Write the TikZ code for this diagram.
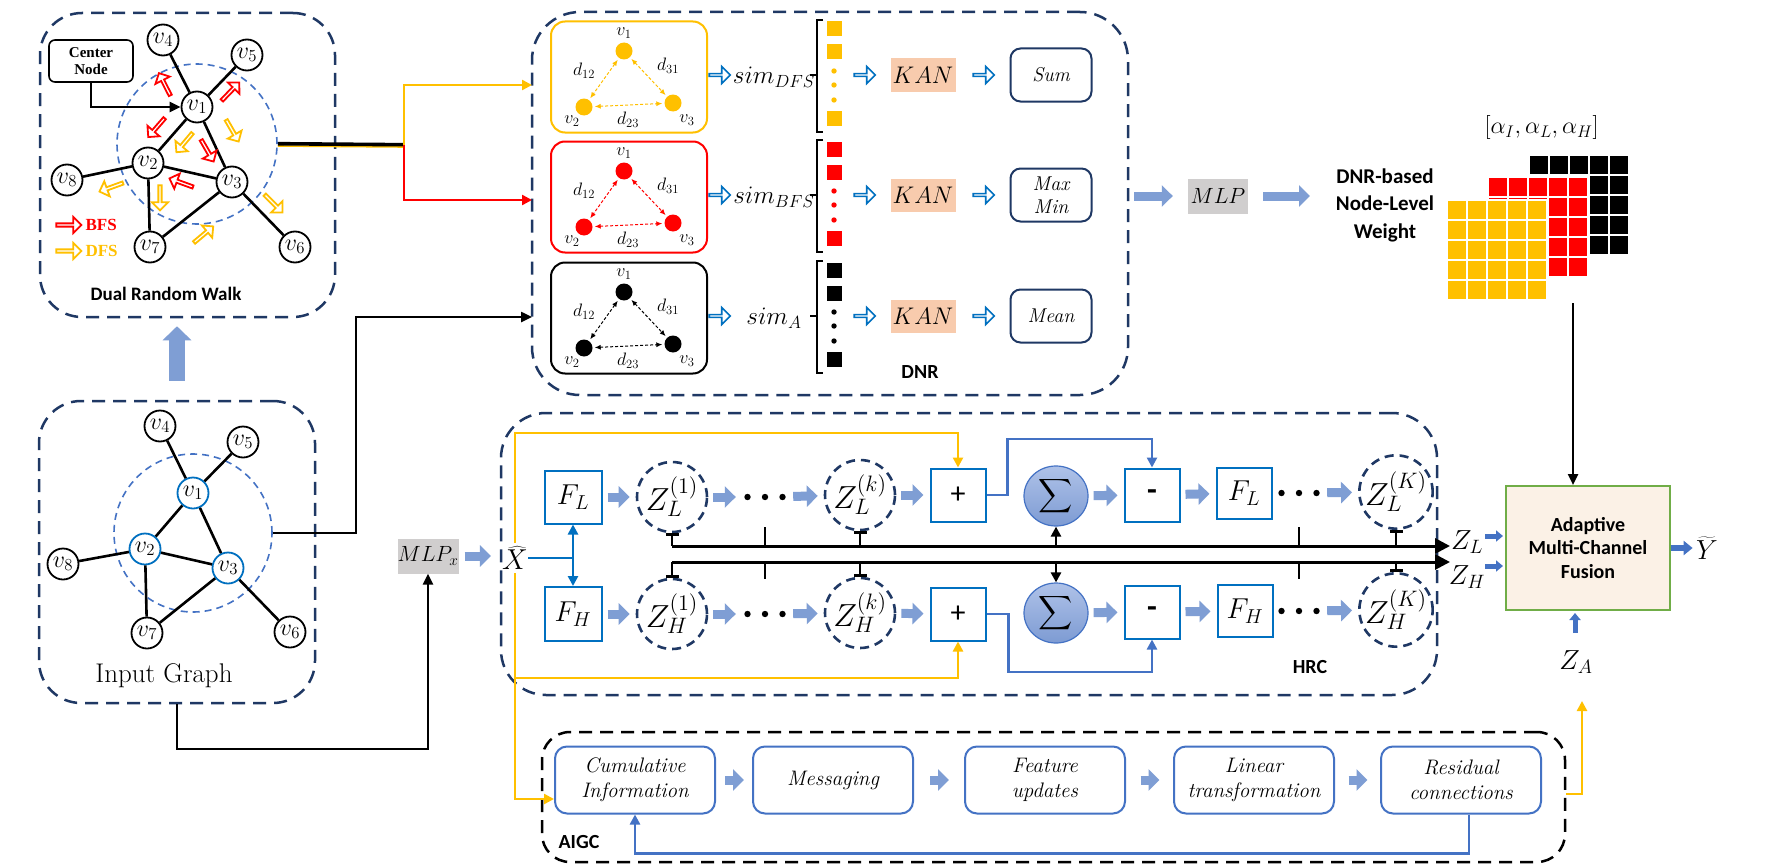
\documentclass[tikz,border=0pt]{standalone}
\usepackage{fix-cm}
\usepackage{fontspec}
\newfontfamily\calib{Carlito}
\newfontfamily\timesf{Liberation Serif}
\usetikzlibrary{arrows.meta,shapes.geometric,shapes.arrows,calc}
\definecolor{navy}{HTML}{1F3864}
\definecolor{gold}{HTML}{FFC000}
\definecolor{redc}{HTML}{FF0000}
\definecolor{kanc}{HTML}{F8CBAD}
\definecolor{mlpg}{HTML}{D0CECE}
\definecolor{lblue}{HTML}{7F9ED4}
\definecolor{bline}{HTML}{4472C4}
\definecolor{fblue}{HTML}{0070C0}
\definecolor{fusionf}{HTML}{FBF1E6}
\definecolor{fusiong}{HTML}{70AD47}
\definecolor{sigt}{HTML}{AFC2E8}
\definecolor{sigb}{HTML}{7D9BD3}
\newcommand\fsz[2]{\fontsize{#1}{#2}\selectfont}
\newcommand\bigsum{\resizebox*{!}{38pt}{$\displaystyle\sum$}}
\newcommand\bm[1]{\scalebox{1.2}{$#1$}}
\newcommand\zm[1]{\scalebox{1.33}{$#1$}}
\begin{document}
\begin{tikzpicture}[x=1pt,y=-1pt,
  navybox/.style={draw=navy, line width=2.5pt, dash pattern=on 13pt off 8pt, rounded corners=42pt, inner sep=0pt},
  gnode/.style={circle, draw=black, fill=white, line width=1.8pt, minimum size=31pt, inner sep=0pt, font=\fsz{24}{24}},
  gedge/.style={line width=2.6pt},
  gcirc/.style={circle, draw=bline, line width=1.6pt, dash pattern=on 7pt off 5pt, inner sep=0pt},
  hol/.style={single arrow, draw=#1, fill=white, line width=1.8pt, minimum width=16pt, minimum height=25pt, single arrow head extend=3.5pt, inner sep=0pt},
  bhol/.style={single arrow, draw=fblue, fill=white, line width=1.6pt, minimum width=17pt, minimum height=21pt, single arrow head extend=4pt, inner sep=0pt},
  fat/.style={draw=lblue, line width=9pt, -{Triangle[length=11pt,width=21pt]}},
  blk/.style={draw=black, line width=2.4pt, -{Triangle[length=11pt,width=10pt]}},
  oline/.style={draw=gold, line width=2.4pt},
  rline/.style={draw=redc, line width=2.4pt},
  blin/.style={draw=bline, line width=2.4pt},
  arrowend/.style={-{Triangle[length=10pt,width=10pt]}},
  dotn/.style={circle, fill=#1, minimum size=17pt, inner sep=0pt},
  dda/.style={draw=#1, line width=1pt, dash pattern=on 3pt off 2pt, {Latex[length=6pt,width=5pt]}-{Latex[length=6pt,width=5pt]}, shorten <=2pt, shorten >=2pt},
  sbox/.style={draw=#1, line width=2pt, rounded corners=14pt, minimum width=156pt, minimum height=111pt, inner sep=0pt},
  kanb/.style={fill=kanc, minimum width=65pt, minimum height=33pt, inner sep=0pt, font=\fsz{24}{24}},
  resb/.style={draw=navy, line width=2pt, rounded corners=10pt, minimum width=81pt, minimum height=53pt, inner sep=0pt, align=center, font=\fsz{20}{23}\itshape},
  fbox/.style={draw=fblue, line width=2pt, minimum width=57pt, minimum height=53pt, inner sep=0pt, font=\fsz{24}{24}},
  pbox/.style={draw=fblue, line width=2pt, minimum width=55pt, minimum height=53pt, inner sep=0pt, font=\calib\fsz{30}{30}},
  zc/.style={circle, draw=navy, line width=2.6pt, dash pattern=on 9pt off 6pt, minimum size=70pt, inner sep=0pt, font=\fsz{24}{24}},
  sig/.style={ellipse, draw=bline, line width=1.2pt, top color=sigt, bottom color=sigb, minimum width=64pt, minimum height=60pt, inner sep=0pt},
  dotsn/.style={minimum width=46pt, minimum height=8pt, inner sep=0pt},
  bus/.style={draw=black, line width=3pt},
  ab/.style={rounded corners=12pt, draw=bline, line width=2pt, minimum width=160pt, minimum height=67pt, inner sep=0pt, align=center, font=\fsz{21}{25}\itshape},
  lbl/.style={font=\calib\bfseries\fsz{20}{20}},
  sarr/.style={draw=bline, line width=5pt, -{Triangle[length=7pt,width=11pt]}},
]
\fill[white] (0,0) rectangle (1769,867);
\useasboundingbox (0,0) rectangle (1769,867);

% ===== Dual Random Walk =====
\node[navybox, minimum width=295pt, minimum height=304pt] (drw) at (187.5,165) {};
\node[gcirc, minimum size=160pt] (acirc) at (197,144) {};
\node[gnode] (a1) at (197,107) {$v_1$};
\node[gnode] (a2) at (148,163) {$v_2$};
\node[gnode] (a3) at (232,182) {$v_3$};
\node[gnode] (a4) at (163,40) {$v_4$};
\node[gnode] (a5) at (247,55) {$v_5$};
\node[gnode] (a6) at (295,247) {$v_6$};
\node[gnode] (a7) at (150,247) {$v_7$};
\node[gnode] (a8) at (67,180) {$v_8$};
\draw[gedge] (a1)--(a4) (a1)--(a5) (a1)--(a2) (a1)--(a3) (a2)--(a3) (a2)--(a8) (a2)--(a7) (a3)--(a7) (a3)--(a6);
\node[draw, line width=1.6pt, rounded corners=6pt, minimum width=84pt, minimum height=42pt, inner sep=0pt, align=center, font=\timesf\bfseries\fsz{15}{17}] (cn) at (91,61) {Center\\Node};
\draw[blk] (cn.south) |- (a1.west);
\node[hol=redc, rotate=117] (r1) at (165,85) {};
\node[hol=redc, rotate=46] (r2) at (230,92) {};
\node[hol=redc, rotate=229] (r3) at (157,127) {};
\node[hol=redc, rotate=-60] (r4) at (207,150) {};
\node[hol=redc, rotate=160] (r5) at (182,183) {};
\node[hol=gold, rotate=-60] (o1) at (232,130) {};
\node[hol=gold, rotate=230] (o2) at (185,142) {};
\node[hol=gold, rotate=200] (o3) at (112,187) {};
\node[hol=gold, rotate=270] (o4) at (160,197) {};
\node[hol=gold, rotate=-45] (o5) at (273,203) {};
\node[hol=gold, rotate=40] (o6) at (203,235) {};
\node[hol=redc] (lr) at (68,225) {};
\node[hol=gold] (lo) at (68,251) {};
\node[font=\timesf\bfseries\fsz{17}{17}, text=redc, anchor=west] (bfs) at (82,225) {BFS};
\node[font=\timesf\bfseries\fsz{17}{17}, text=gold, anchor=west] (dfs) at (82,251) {DFS};
\node[lbl, font=\calib\bfseries\fsz{19}{19}] (drwlab) at (166,294) {Dual Random Walk};

% ===== Input Graph =====
\node[navybox, minimum width=276pt, minimum height=302pt] (inbox) at (177,552) {};
\node[gcirc, minimum size=158pt] (bcirc) at (193,533) {};
\node[gnode, draw=fblue] (b1) at (193,493) {$v_1$};
\node[gnode, draw=fblue] (b2) at (145,549) {$v_2$};
\node[gnode, draw=fblue] (b3) at (228,568) {$v_3$};
\node[gnode] (b4) at (160,426) {$v_4$};
\node[gnode] (b5) at (243,442) {$v_5$};
\node[gnode] (b6) at (290,632) {$v_6$};
\node[gnode] (b7) at (147,633) {$v_7$};
\node[gnode] (b8) at (63,564) {$v_8$};
\draw[gedge] (b1)--(b4) (b1)--(b5) (b1)--(b2) (b1)--(b3) (b2)--(b3) (b2)--(b8) (b2)--(b7) (b3)--(b7) (b3)--(b6);
\node[font=\fsz{27}{27}] (inlab) at (164,676) {Input Graph};
\draw[draw=lblue, line width=16pt, -{Triangle[length=14pt,width=28pt]}, shorten <=19pt, shorten >=8pt] (inbox.north) -- (inbox.north |- drw.south);

% ===== DNR =====
\node[navybox, rounded corners=48pt, minimum width=596pt, minimum height=383pt] (dnr) at (830,203.5) {};
\coordinate (split) at (404,145);
\coordinate (dinD) at (532,85);
\coordinate (dinB) at (532,200);
\coordinate (dinA) at (532,317);
\draw[draw=gold, line width=1.6pt] ([yshift=-2pt]acirc.east) -- ([yshift=-2pt]split);
\draw[line width=3.6pt] ([yshift=0.3pt]acirc.east) -- ([yshift=0.3pt]split);
\draw[oline, arrowend] (split) |- (dinD);
\draw[rline, arrowend] (split) |- (dinB);
\draw[blk] (bcirc.east) -- (356,533) |- (dinA);

\foreach \r/\col/\yc/\sm/\rs in {D/gold/77/{$sim_{DFS}$}/Sum, B/redc/197/{$sim_{BFS}$}/{Max\\Min}, A/black/318/{$sim_{A}$}/Mean}{
  \node[sbox=\col] (box\r) at (629,\yc) {};
  \node[dotn=\col] (p1\r) at (624,\yc-26) {};
  \node[dotn=\col] (p2\r) at (584,\yc+30) {};
  \node[dotn=\col] (p3\r) at (673,\yc+26) {};
  \draw[dda=\col] (p1\r) -- (p2\r);
  \draw[dda=\col] (p1\r) -- (p3\r);
  \draw[dda=\col] (p2\r) -- (p3\r);
  \node[font=\fsz{18}{18}] (l1\r) at (624,\yc-44) {$v_1$};
  \node[font=\fsz{18}{18}] (l2\r) at (572,\yc+44) {$v_2$};
  \node[font=\fsz{18}{18}] (l3\r) at (687,\yc+43) {$v_3$};
  \node[font=\fsz{18}{18}] (d12\r) at (584,\yc-6) {$d_{12}$};
  \node[font=\fsz{18}{18}] (d31\r) at (668,\yc-11) {$d_{31}$};
  \node[font=\fsz{18}{18}] (d23\r) at (628,\yc+43) {$d_{23}$};
  \node[bhol] (h1\r) at (719,\yc-2) {};
  \node[font=\fsz{24}{24}] (s\r) at (774,\yc) {\scalebox{1.05}{\sm}};
  \draw[line width=2.6pt] (823,\yc-57) -- (817,\yc-57) -- (817,\yc+55) -- (823,\yc+55);
  \draw[line width=2.6pt] (817,\yc-2) -- (810,\yc-2);
  \foreach \o in {-48,-25,41} \fill[\col] (826.5,{\yc+(\o)-7.5}) rectangle ++(15,15);
  \foreach \o in {-6,8,23} \fill[\col] (834,{\yc+(\o)}) circle (2.7pt);
  \node[bhol] (h2\r) at (864,\yc-2) {};
  \node[kanb] (k\r) at (923,\yc-2) {$KAN$};
  \node[bhol] (h3\r) at (983,\yc-2) {};
  \node[resb] (res\r) at (1051,\yc-2) {\rs};
}
\node[lbl] (dnrlab) at (920,372) {DNR};

% ===== MLP and weights =====
\node[fill=mlpg, minimum width=60pt, minimum height=35pt, inner sep=0pt, font=\fsz{22}{22}] (mlp) at (1218,196) {$MLP$};
\node[font=\calib\bfseries\fsz{21}{27.5}, align=center] (wtext) at (1385,205) {DNR-based\\Node-Level\\Weight};
\coordinate (wtip) at (1310,196);
\draw[fat, shorten <=5pt, shorten >=15pt] (dnr.east |- mlp) -- (mlp.west);
\draw[fat, shorten <=15pt] (mlp.east) -- (wtip);
\foreach \gx/\gy/\gc in {1529/155/black, 1488/177/redc, 1447/200/gold}{
  \foreach \i in {0,...,4}{\foreach \j in {0,...,4}{
    \filldraw[fill=\gc, draw=white, line width=2.5pt] ({\gx+20*\i},{\gy+20*\j}) rectangle ++(20,20);
  }}
}
\node[font=\fsz{24}{24}, anchor=west] (alab) at (1481,128) {$[\alpha_I,\alpha_L,\alpha_H]$};

% ===== HRC =====
\node[navybox, rounded corners=45pt, minimum width=936pt, minimum height=282pt] (hrc) at (969,554) {};
\node[fill=mlpg, minimum width=61pt, minimum height=35pt, inner sep=0pt, font=\fsz{22}{22}] (mlpx) at (428,556) {$MLP_x$};
\node[inner sep=0pt, minimum height=30pt, font=\fsz{24}{24}] (Xh) at (515,558) {\bm{\widehat{X}}};
\draw[blk] (inbox.south) -- ++(0,45) -| (mlpx.south);
\draw[fat, shorten <=6pt, shorten >=11pt] (mlpx.east) -- (Xh.west |- mlpx.east);

\node[fbox] (FL1) at (573,497) {\bm{F_L}};
\node[zc] (ZL1) at (672,497) {\zm{Z_L^{(1)}}};
\node[dotsn] (DL1) at (765,497) {};
\node[zc] (ZLk) at (860,495) {\zm{Z_L^{(k)}}};
\node[pbox] (PL) at (958,495) {+};
\node[sig] (SL) at (1056,496) {\bigsum};
\node[pbox, font=\calib\bfseries\fsz{32}{32}] (ML) at (1152,495) {-};
\node[fbox, minimum width=55pt, minimum height=51pt] (FL2) at (1244,493) {\bm{F_L}};
\node[dotsn] (DL2) at (1299,493) {};
\node[zc, minimum size=68pt] (ZLK) at (1396,492) {\zm{Z_L^{(K)}}};

\node[fbox, minimum height=54pt] (FH1) at (573,614) {\bm{F_H}};
\node[zc] (ZH1) at (672,614) {\zm{Z_H^{(1)}}};
\node[dotsn] (DH1) at (765,614) {};
\node[zc] (ZHk) at (860,613) {\zm{Z_H^{(k)}}};
\node[pbox] (PH) at (958,614) {+};
\node[sig] (SH) at (1056,613) {\bigsum};
\node[pbox, font=\calib\bfseries\fsz{32}{32}] (MH) at (1152,612) {-};
\node[fbox, minimum width=55pt, minimum height=52pt] (FH2) at (1245,611) {\bm{F_H}};
\node[dotsn] (DH2) at (1299,611) {};
\node[zc, minimum size=68pt] (ZHK) at (1396,610) {\zm{Z_H^{(K)}}};

\foreach \n in {DL1,DL2,DH1,DH2}{\foreach \dx in {-17.5,0,17.5}{\fill ($(\n)+(\dx,0)$) circle (3.2pt);}}
\foreach \a/\b in {FL1/ZL1, ZL1/DL1, DL1/ZLk, ZLk/PL, SL/ML, ML/FL2, DL2/ZLK, FH1/ZH1, ZH1/DH1, DH1/ZHk, ZHk/PH, SH/MH, MH/FH2, DH2/ZHK}
  \draw[fat, shorten <=5pt, shorten >=6pt] (\a) -- (\b);

\coordinate (tbe) at (1450,546);
\coordinate (bbe) at (1450,562);
\draw[bus, -{Triangle[length=15pt,width=15pt]}] (ZL1.south |- tbe) -- (tbe);
\draw[bus, -{Triangle[length=15pt,width=15pt]}] (ZH1.north |- bbe) -- (bbe);
\foreach \z in {ZL1,ZLk,ZLK} \draw[line width=2.6pt, {Bar[width=13pt]}-] (\z.south) -- (\z.south |- tbe);
\foreach \z in {ZH1,ZHk,ZHK} \draw[line width=2.6pt, {Bar[width=13pt]}-] (\z.north) -- (\z.north |- bbe);
\foreach \d in {DL1,DL2} \draw[line width=2.6pt] (\d.center |- tbe) -- ++(0,-19);
\foreach \d in {DH1,DH2} \draw[line width=2.6pt] (\d.center |- bbe) -- ++(0,17);
\draw[line width=2.6pt, arrowend] (SL.south |- tbe) -- (SL.south);
\draw[line width=2.6pt, arrowend] (SH.north |- bbe) -- (SH.north);

\coordinate (yb1) at (0,439);
\coordinate (yb2) at (0,672);
\coordinate (yo1) at (0,433);
\coordinate (yo2) at (0,678);
\coordinate (yo3) at (0,799);
\coordinate (yo4) at (0,794);
\draw[blin, arrowend] (PL.east) -- ++(21,0) |- (ML.north |- yb1) -- (ML.north);
\draw[blin, arrowend] (PH.east) -- ++(22,0) |- (MH.south |- yb2) -- (MH.south);
\draw[draw=fblue, line width=2.5pt] (Xh.east) -- (Xh.east -| FL1.south);
\draw[draw=fblue, line width=2.5pt, {Triangle[length=10pt,width=10pt]}-{Triangle[length=10pt,width=10pt]}] (FL1.south) -- (FH1.north);
\draw[oline, arrowend] (Xh.north) -- (Xh.north |- yo1) -| (PL.north);
\draw[oline, arrowend] (Xh.south) -- (Xh.south |- yo2) -| (PH.south);
\node[lbl] (hrclab) at (1310,667) {HRC};

% ===== AIGC =====
\node[draw=black, line width=2.5pt, dash pattern=on 13pt off 8pt, rounded corners=28pt, minimum width=1023pt, minimum height=130pt, inner sep=0pt] (aigc) at (1053.5,797) {};
\node[ab] (cumul) at (635,780) {Cumulative\\Information};
\node[ab] (mess) at (833,780) {Messaging};
\node[ab] (feat) at (1045,780) {Feature\\updates};
\node[ab] (lin) at (1254,780) {Linear\\transformation};
\node[ab] (resid) at (1461,780) {Residual\\connections};
\foreach \a/\b in {cumul/mess,mess/feat,feat/lin,lin/resid}
  \draw[fat] ($(\a.east)!.5!(\b.west)+(-9,0)$) -- ($(\a.east)!.5!(\b.west)+(10,0)$);
\draw[oline, arrowend] (Xh.south |- yo2) -- (Xh.south |- yo3) -- (cumul.west |- yo3);
\draw[blin, arrowend] ([xshift=8pt]resid.south) -- ++(0,39) -| (cumul.south);
\node[lbl] (aigclab) at (579,842) {AIGC};

% ===== Fusion =====
\node[draw=fusiong, fill=fusionf, line width=2pt, minimum width=164pt, minimum height=124pt, inner sep=0pt, align=center, font=\calib\bfseries\fsz{20}{23.5}] (fusion) at (1588,548) {Adaptive\\Multi-Channel\\Fusion};
\coordinate (wbot) at (1573,303);
\draw[blk] (wbot) -- (wbot |- fusion.north);
\node[font=\fsz{24}{24}, inner sep=1pt] (ZLt) at (1467,542) {\scalebox{1.15}{$Z_L$}};
\node[font=\fsz{24}{24}, inner sep=1pt] (ZHt) at (1467,577) {\scalebox{1.15}{$Z_H$}};
\coordinate (zla) at (1485,536);
\coordinate (zha) at (1485,566);
\draw[sarr, shorten >=2pt] (zla) -- (zla -| fusion.west);
\draw[sarr, shorten >=2pt] (zha) -- (zha -| fusion.west);
\node[font=\fsz{24}{24}] (Yt) at (1707,548) {\scalebox{1.15}{$\widetilde{Y}$}};
\draw[draw=bline, line width=5.5pt, -{Triangle[length=9pt,width=14pt]}] (fusion.east) -- (Yt.west);
\node[font=\fsz{24}{24}] (ZA) at (1576,662) {\scalebox{1.15}{$Z_A$}};
\coordinate (zaa) at (1575,633);
\draw[sarr, shorten >=2pt] (zaa) -- (zaa |- fusion.south);
\coordinate (zat) at (1582,701);
\draw[oline, arrowend] (aigc.east |- yo4) -| (zat);
\end{tikzpicture}
\end{document}
